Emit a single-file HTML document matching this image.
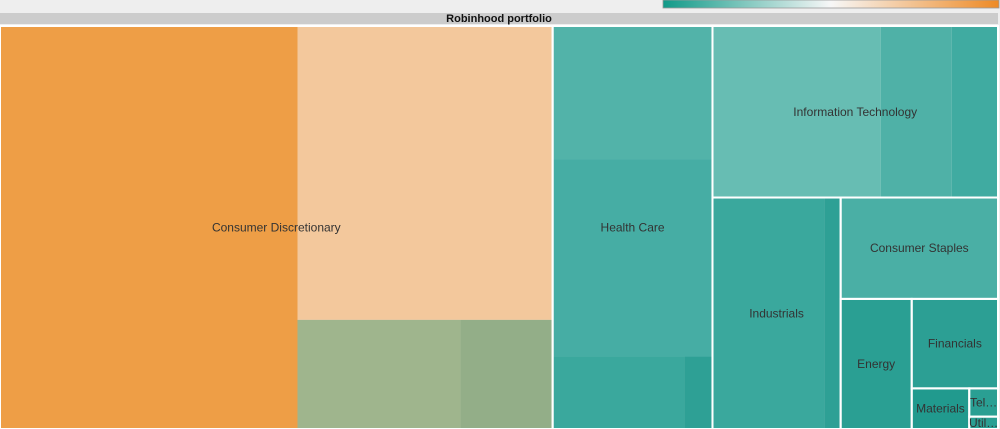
<!DOCTYPE html>
<html><head><meta charset="utf-8"><style>
body{margin:0;width:1000px;height:429px;background:#eeeeee;overflow:hidden;font-family:"Liberation Sans",sans-serif}
svg{display:block}
</style></head><body>
<svg id="chart" width="1000" height="429">
<defs><linearGradient id="cg" x1="0" x2="1"><stop offset="0" stop-color="#109a88"/><stop offset="0.5" stop-color="#f7f7f7"/><stop offset="1" stop-color="#ee8a25"/></linearGradient></defs>
<rect x="663" y="0" width="336" height="8" fill="url(#cg)" stroke="#999" stroke-width="0.8"/>
<rect x="0" y="13" width="998" height="11" fill="#cccccc"/>
<text x="499" y="22" text-anchor="middle" font-size="11" font-weight="bold" fill="#111">Robinhood portfolio</text>
<g id="leaves"></g><g id="sectors"></g>
</svg>
<script>
// sector names and leaf values
const sectorNames=["Consumer Discretionary","Health Care","Information Technology","Industrials","Consumer Staples","Energy","Financials","Materials","Telecommunication Services","Utilities"];
const sectorLabels=["Consumer Discretionary","Health Care","Information Technology","Industrials","Consumer Staples","Energy","Financials","Materials","Tel…","Util…"];
const cdValues=[1180,738,175,99];
const hcValues=[210,310,94,20];
const itValues=[284,120,78];
const indValues=[255,37];
const stapValues=[157];
const enValues=[91];
const finValues=[76];
const matValues=[23];
const telValues=[8];
const utilValues=[3.5];
const colors={cd:["#ee9e46","#f3c89c","#9fb58d","#93ae88"],hc:["#52b3a9","#46ada4","#3aa89d","#2ea095"],it:["#67bdb3","#4fb1a7","#40aba1"],ind:["#3aa89d","#2ea095"],st:["#4aafa5"],en:["#2a9f93"],fin:["#2c9f94"],mat:["#219a8e"],tel:["#2a9f93"],util:["#2a9f93"]};
const sum=a=>a.reduce((s,v)=>s+(typeof v==="number"?v:v.value),0);
function L(v,c){return {value:v,color:c};}
function G(dir,ch,extra){const n={dir:dir,children:ch,value:sum(ch)};return Object.assign(n,extra||{});}
const S=(i,node)=>Object.assign(node,{sector:i});
const cd=S(0,G("h",[L(cdValues[0],colors.cd[0]),G("v",[L(cdValues[1],colors.cd[1]),G("h",[L(cdValues[2],colors.cd[2]),L(cdValues[3],colors.cd[3])])])]));
const hc=S(1,G("v",[L(hcValues[0],colors.hc[0]),L(hcValues[1],colors.hc[1]),G("h",[L(hcValues[2],colors.hc[2]),L(hcValues[3],colors.hc[3])])]));
const it=S(2,G("h",itValues.map((v,i)=>L(v,colors.it[i]))));
const ind=S(3,G("h",indValues.map((v,i)=>L(v,colors.ind[i]))));
const st=S(4,G("h",[L(stapValues[0],colors.st[0])]));
const en=S(5,G("h",[L(enValues[0],colors.en[0])]));
const fin=S(6,G("h",[L(finValues[0],colors.fin[0])]));
const mat=S(7,G("h",[L(matValues[0],colors.mat[0])]));
const tel=S(8,G("h",[L(telValues[0],colors.tel[0])]));
const util=S(9,G("h",[L(utilValues[0],colors.util[0])]));
const root=G("h",[cd,G("h",[hc,G("v",[it,G("h",[ind,G("v",[st,G("h",[en,G("v",[fin,G("h",[mat,G("v",[tel,util])])])])])])])])]);
const NS="http://www.w3.org/2000/svg";
const leafG=document.getElementById("leaves"),secG=document.getElementById("sectors");
function layout(n,x,y,w,h){
  if(n.sector!==undefined){n.rect=[x,y,w,h];drawSector(n);}
  if(!n.children){drawLeaf(n,x,y,w,h);return;}
  let off=0;
  n.children.forEach(c=>{const f=c.value/n.value;
    if(n.dir==="h"){layout(c,x+off,y,w*f,h);off+=w*f;}else{layout(c,x,y+off,w,h*f);off+=h*f;}});
}
function drawLeaf(n,x,y,w,h){
  const r=document.createElementNS(NS,"rect");
  r.setAttribute("x",x);r.setAttribute("y",y);r.setAttribute("width",w);r.setAttribute("height",h);r.setAttribute("fill",n.color);
  
  
  leafG.appendChild(r);
}
const sectorNodes=[];
function drawSector(n){sectorNodes.push(n);}
layout(root,0,26,998,403);
sectorNodes.forEach(n=>{
  const [x,y,w,h]=n.rect;
  const r=document.createElementNS(NS,"rect");
  r.setAttribute("x",x);r.setAttribute("y",y);r.setAttribute("width",w);r.setAttribute("height",h);
  r.setAttribute("fill","none");r.setAttribute("stroke","#fff");r.setAttribute("stroke-width","2");
  
  
  secG.appendChild(r);
  const t=document.createElementNS(NS,"text");
  let ty=y+h/2+4; if(n.sector===9) ty=y+h-2;
  t.setAttribute("x",x+w/2);t.setAttribute("y",ty);t.setAttribute("text-anchor","middle");
  t.setAttribute("font-size","12");t.setAttribute("fill","#333");
  t.textContent=sectorLabels[n.sector];
  
  
  secG.appendChild(t);
});
</script>
</body></html>
